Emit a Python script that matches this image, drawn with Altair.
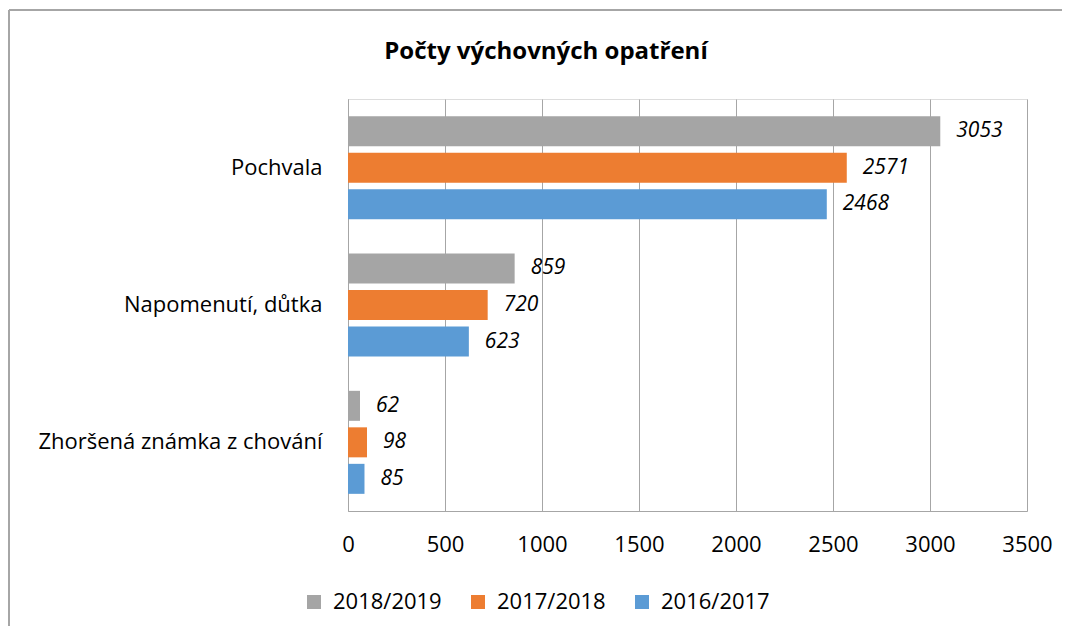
import altair as alt
import pandas as pd

categories = ["Pochvala", "Napomenutí, důtka", "Zhoršená známka z chování"]
years = ["2018/2019", "2017/2018", "2016/2017"]
colors = ["#A5A5A5", "#ED7D31", "#5B9BD5"]
v_2018_2019 = [3053, 859, 62]
v_2017_2018 = [2571, 720, 98]
v_2016_2017 = [2468, 623, 85]
x_ticks = [0, 500, 1000, 1500, 2000, 2500, 3000, 3500]
title_text = ["Počty výchovných opatření"]

rows = []
for yr, vals in zip(years, [v_2018_2019, v_2017_2018, v_2016_2017]):
    for c, v in zip(categories, vals):
        rows.append({"kat": c, "rok": yr, "hodnota": v})
df = pd.DataFrame(rows)

FONT = "Open Sans"
GRID = "#a6a6a6"

y_enc = alt.Y("kat:N", sort=categories, title=None,
              scale=alt.Scale(paddingInner=0, paddingOuter=0),
              axis=alt.Axis(labelFont=FONT, labelFontSize=22, labelColor="black",
                            labelPadding=26, ticks=False, domain=True,
                            domainColor=GRID, labelLimit=400))
yoff_enc = alt.YOffset("rok:N", sort=years,
                       scale=alt.Scale(paddingInner=0.178, paddingOuter=0.47))
x_enc = alt.X("hodnota:Q", title=None,
              scale=alt.Scale(domain=[0, 3500], nice=False),
              axis=alt.Axis(values=x_ticks, format="d", labelFont=FONT, labelFontSize=22,
                            labelColor="black", labelPadding=23, ticks=False,
                            labelFlush=False, labelOverlap=False,
                            grid=True, gridColor=GRID, domainColor=GRID))

bars = alt.Chart(df).mark_bar().encode(
    y=y_enc, yOffset=yoff_enc, x=x_enc,
    color=alt.Color("rok:N", sort=years,
                    scale=alt.Scale(domain=years, range=colors),
                    legend=alt.Legend(title=None, orient="none", direction="horizontal",
                                      legendX=-45, legendY=492,
                                      labelFont=FONT, labelFontSize=22, labelColor="black",
                                      symbolType="square", symbolSize=196,
                                      symbolStrokeWidth=0, labelOffset=8,
                                      columnPadding=25)),
)

labels = alt.Chart(df).mark_text(
    align="left", baseline="middle", dx=16, font=FONT, fontSize=21,
    fontStyle="italic", color="black"
).encode(y=alt.Y("kat:N", sort=categories), yOffset=yoff_enc,
         x=alt.X("hodnota:Q"), text=alt.Text("hodnota:Q"))

title = alt.Chart(pd.DataFrame({"t": title_text})).mark_text(
    font=FONT, fontSize=24, fontWeight="bold", color="black",
    align="center", baseline="middle", clip=False
).encode(x=alt.value(198), y=alt.value(-47), text="t:N")

frame_top = alt.Chart(df).mark_rule(color=GRID, strokeWidth=1.5, clip=False).encode(
    x=alt.value(-339), x2=alt.value(740), y=alt.value(-89))
frame_left = alt.Chart(df).mark_rule(color=GRID, strokeWidth=2, clip=False).encode(
    x=alt.value(-339), y=alt.value(-89), y2=alt.value(545))

chart = alt.layer(frame_top, frame_left, bars, labels, title).properties(
    width=679, height=412,
    autosize=alt.AutoSizeParams(type="none"),
    padding={"left": 340, "top": 91, "right": 35, "bottom": 115},
).configure_view(stroke=None).configure(background="white")

chart.save("out.html", embed_options={"renderer": "svg", "actions": False})
